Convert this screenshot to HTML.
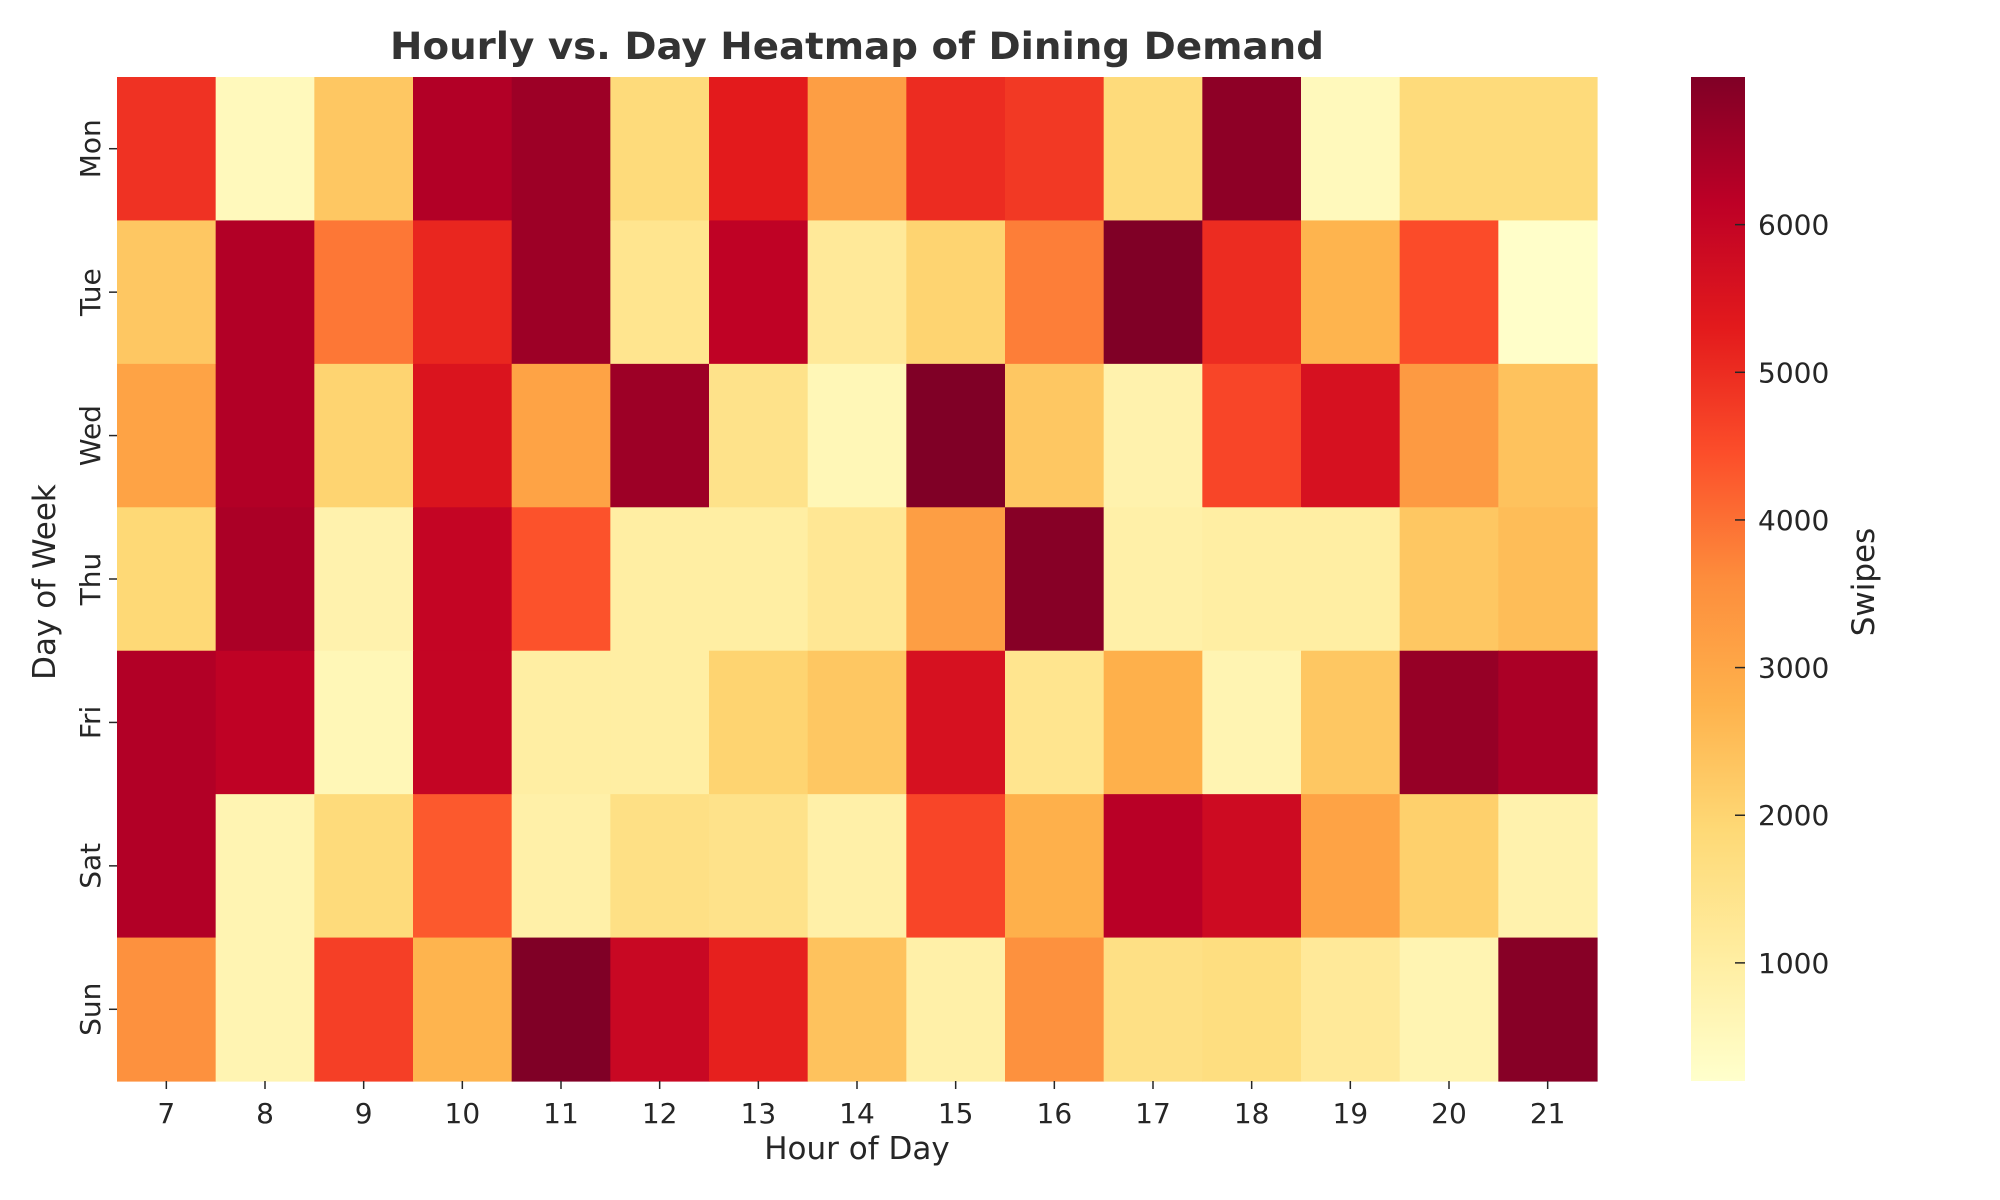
<!DOCTYPE html>
<html><head><meta charset="utf-8"><style>body{margin:0;background:#fff}svg{display:block}text{font-family:"DejaVu Sans","Liberation Sans",sans-serif;fill:#262626}</style></head>
<body>
<svg id="chart" width="2000" height="1200" viewBox="0 0 2000 1200" xmlns="http://www.w3.org/2000/svg">
<defs><linearGradient id="cbg" x1="0" y1="1" x2="0" y2="0">
<stop offset="0" stop-color="#ffffcc"/><stop offset="0.125" stop-color="#ffeda0"/><stop offset="0.25" stop-color="#fed976"/><stop offset="0.375" stop-color="#feb24c"/><stop offset="0.5" stop-color="#fd8d3c"/><stop offset="0.625" stop-color="#fc4e2a"/><stop offset="0.75" stop-color="#e31a1c"/><stop offset="0.875" stop-color="#bd0026"/><stop offset="1" stop-color="#800026"/></linearGradient></defs>
<text x="857" y="59" text-anchor="middle" font-size="37" font-weight="bold" style="fill:#333" textLength="934" lengthAdjust="spacingAndGlyphs">Hourly vs. Day Heatmap of Dining Demand</text>
<g id="cells"></g>
<g id="axes"></g>
<rect x="1691" y="77" width="54" height="1004" fill="url(#cbg)"/>
<g id="cbticks"></g>
<text x="857" y="1159" text-anchor="middle" font-size="31">Hour of Day</text>
<text transform="translate(55,582) rotate(-90)" text-anchor="middle" font-size="31">Day of Week</text>
<text transform="translate(1874,582) rotate(-90)" text-anchor="middle" font-size="31">Swipes</text>
</svg>
<script>
const hours = [7,8,9,10,11,12,13,14,15,16,17,18,19,20,21];
const days = ["Mon","Tue","Wed","Thu","Fri","Sat","Sun"];
const mon = [4900,500,2300,6300,6600,1800,5300,3200,5000,4800,1800,6800,500,1800,1800];
const tue = [2300,6300,3900,5100,6600,1400,6100,1200,2000,3800,7000,5000,2700,4500,250];
const wed = [3100,6300,2000,5500,3100,6600,1500,600,7000,2300,800,4600,5600,3300,2400];
const thu = [1900,6400,800,6000,4400,1000,1000,1300,3200,6900,900,1000,1000,2300,2500];
const fri = [6300,6100,600,6000,1000,1000,2000,2300,5600,1400,2800,700,2300,6700,6400];
const sat = [6300,700,1800,4300,900,1600,1500,900,4600,2800,6200,5800,3100,2100,800];
const sun = [3500,700,4700,2700,7000,5900,5200,2400,900,3500,1600,1700,1200,700,6900];
const values = [mon,tue,wed,thu,fri,sat,sun];
const cbTicks = [1000,2000,3000,4000,5000,6000];
const vmin = 200, vmax = 7000;
const X0=117,X1=1597,Y0=77,Y1=1081;
const cw=(X1-X0)/hours.length, ch=(Y1-Y0)/days.length;
const xPos=i=>X0+i*cw, yPos=j=>Y0+j*ch;
const cbY=v=>Y1-(v-vmin)/(vmax-vmin)*(Y1-Y0);
const stops=["#ffffcc","#ffeda0","#fed976","#feb24c","#fd8d3c","#fc4e2a","#e31a1c","#bd0026","#800026"].map(h=>[1,3,5].map(k=>parseInt(h.substr(k,2),16)));
function color(v){let t=Math.max(0,Math.min(1,(v-vmin)/(vmax-vmin)))*8;let i=Math.min(7,Math.floor(t)),f=t-i;const a=stops[i],b=stops[i+1];return "rgb("+a.map((c,k)=>Math.round(c+(b[k]-c)*f)).join(",")+")";}
const NS="http://www.w3.org/2000/svg";
const cells=document.getElementById('cells'),axes=document.getElementById('axes'),cbt=document.getElementById('cbticks');
function mk(tag,attrs,txt){const e=document.createElementNS(NS,tag);for(const k in attrs)e.setAttribute(k,attrs[k]);if(txt!==undefined)e.textContent=txt;return e;}
values.forEach((row,j)=>row.forEach((v,i)=>{
  const r=mk('rect',{x:xPos(i),y:yPos(j),width:cw+0.6,height:ch+0.6,fill:color(v)});
  
  
  cells.appendChild(r);
}));
hours.forEach((h,i)=>{
  const cx=xPos(i)+cw/2;
  const tk=mk('line',{x1:cx,x2:cx,y1:Y1,y2:Y1+8,stroke:'#262626','stroke-width':1.5});
  
  
  axes.appendChild(tk);
  const t=mk('text',{x:cx,y:Y1+42,'text-anchor':'middle','font-size':28},h);
  
  
  axes.appendChild(t);
});
days.forEach((d,j)=>{
  const cy=yPos(j)+ch/2;
  const tk=mk('line',{x1:X0-8,x2:X0,y1:cy,y2:cy,stroke:'#262626','stroke-width':1.5});
  
  
  axes.appendChild(tk);
  const t=mk('text',{transform:'translate('+(X0-17)+','+cy+') rotate(-90)','text-anchor':'middle','font-size':28},d);
  
  
  axes.appendChild(t);
});
cbTicks.forEach(v=>{
  const y=cbY(v);
  const tk=mk('line',{x1:1735,x2:1745,y1:y,y2:y,stroke:'#262626','stroke-width':1.5});
  
  
  cbt.appendChild(tk);
  const t=mk('text',{x:1758,y:y+10,'font-size':28},v);
  
  
  cbt.appendChild(t);
});
</script>
</body></html>
